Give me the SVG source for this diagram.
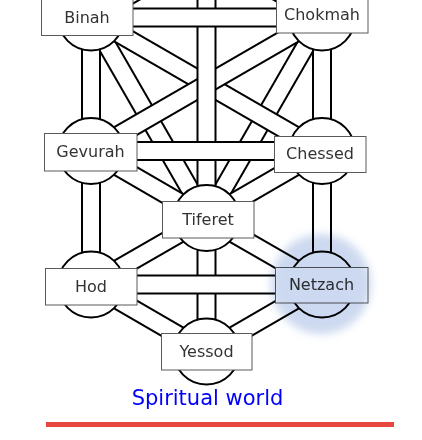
<svg xmlns="http://www.w3.org/2000/svg" xmlns:xlink="http://www.w3.org/1999/xlink" width="422" height="440" viewBox="0 0 422 440">
<style>
.o{stroke:#000;stroke-width:20;fill:none}
.i{stroke:#fff;stroke-width:16;fill:none}
.sf{fill:#fff;stroke:#000;stroke-width:2}
.bx{fill:#fff;stroke:#5a5a5a;stroke-width:1}
.lb{font-family:"DejaVu Sans","Verdana",sans-serif;font-size:16px;fill:#333;text-anchor:middle}
.glow{fill:#cdd9f0;mix-blend-mode:multiply}
</style>
<defs>
<filter id="blur" x="-30%" y="-30%" width="160%" height="160%"><feGaussianBlur stdDeviation="4"/></filter>
<line id="kb" x1="206.5" y1="-49.5" x2="91" y2="17.5"/>
<line id="kc" x1="206.5" y1="-49.5" x2="322" y2="17.5"/>
<line id="bt" x1="91" y1="17.5" x2="206.5" y2="218"/>
<line id="ct" x1="322" y1="17.5" x2="206.5" y2="218"/>
<line id="bc" x1="91" y1="17.5" x2="322" y2="151"/>
<line id="cg" x1="322" y1="17.5" x2="91" y2="151"/>
<line id="kt" x1="206.5" y1="-49.5" x2="206.5" y2="218"/>
<line id="gc" x1="91" y1="151" x2="322" y2="151"/>
<line id="bch" x1="91" y1="17.5" x2="322" y2="17.5"/>
<line id="bg" x1="91" y1="17.5" x2="91" y2="151"/>
<line id="cc" x1="322" y1="17.5" x2="322" y2="151"/>
<line id="gt" x1="91" y1="151" x2="206.5" y2="218"/>
<line id="cht" x1="322" y1="151" x2="206.5" y2="218"/>
<line id="th" x1="206.5" y1="218" x2="91" y2="284.5"/>
<line id="tn" x1="206.5" y1="218" x2="322" y2="284.5"/>
<line id="ty" x1="206.5" y1="218" x2="206.5" y2="351.5"/>
<line id="hn" x1="91" y1="284.5" x2="322" y2="284.5"/>
<line id="gh" x1="91" y1="151" x2="91" y2="284.5"/>
<line id="cn" x1="322" y1="151" x2="322" y2="284.5"/>
<line id="hy" x1="91" y1="284.5" x2="206.5" y2="351.5"/>
<line id="ny" x1="322" y1="284.5" x2="206.5" y2="351.5"/>
</defs>
<g id="connectors">
<use href="#kb" class="o"/><use href="#kb" class="i"/>
<use href="#kc" class="o"/><use href="#kc" class="i"/>
<use href="#bt" class="o"/><use href="#bt" class="i"/>
<use href="#ct" class="o"/><use href="#ct" class="i"/>
<use href="#bc" class="o"/><use href="#bc" class="i"/>
<use href="#cg" class="o"/><use href="#cg" class="i"/>
<use href="#kt" class="o"/><use href="#kt" class="i"/>
<use href="#gc" class="o"/><use href="#gc" class="i"/>
<use href="#bch" class="o"/><use href="#bch" class="i"/>
<use href="#bg" class="o"/><use href="#bg" class="i"/>
<use href="#cc" class="o"/><use href="#cc" class="i"/>
<use href="#gt" class="o"/><use href="#gt" class="i"/>
<use href="#cht" class="o"/><use href="#cht" class="i"/>
<use href="#th" class="o"/><use href="#th" class="i"/>
<use href="#tn" class="o"/><use href="#tn" class="i"/>
<use href="#ty" class="o"/><use href="#ty" class="i"/>
<use href="#hn" class="o"/><use href="#hn" class="i"/>
<use href="#gh" class="o"/><use href="#gh" class="i"/>
<use href="#cn" class="o"/><use href="#cn" class="i"/>
<use href="#hy" class="o"/><use href="#hy" class="i"/>
<use href="#ny" class="o"/><use href="#ny" class="i"/>
</g>
<g id="binah"><circle class="sf" cx="91" cy="17.5" r="33"/><rect class="bx" x="41.5" y="-2.5" width="91.5" height="38"/><text class="lb" x="87" y="23">Binah</text></g>
<g id="chokmah"><circle class="sf" cx="322" cy="17.5" r="33"/><rect class="bx" x="276.5" y="-5.5" width="91.5" height="38.5"/><text class="lb" x="322" y="20">Chokmah</text></g>
<g id="gevurah"><circle class="sf" cx="91" cy="151" r="33"/><rect class="bx" x="44.5" y="133.5" width="92.5" height="37.5"/><text class="lb" x="90.5" y="157">Gevurah</text></g>
<g id="chessed"><circle class="sf" cx="322" cy="151" r="33"/><rect class="bx" x="274.5" y="136.5" width="91.5" height="36"/><text class="lb" x="320" y="159">Chessed</text></g>
<g id="tiferet"><circle class="sf" cx="206.5" cy="218" r="33"/><rect class="bx" x="162.5" y="201.5" width="91.5" height="36.5"/><text class="lb" x="208" y="225">Tiferet</text></g>
<g id="hod"><circle class="sf" cx="91" cy="284.5" r="33"/><rect class="bx" x="45.5" y="268.5" width="91.5" height="36.5"/><text class="lb" x="91" y="292">Hod</text></g>
<g id="netzach"><circle class="sf" cx="322" cy="284.5" r="33"/><rect class="bx" x="275.5" y="267.5" width="92.5" height="35.5"/><text class="lb" x="321.5" y="290">Netzach</text><circle class="glow" cx="321" cy="284" r="50" filter="url(#blur)"/></g>
<g id="yessod"><circle class="sf" cx="206.5" cy="351.5" r="33"/><rect class="bx" x="161.5" y="333.5" width="90.5" height="36.5"/><text class="lb" x="206.5" y="357">Yessod</text></g>
<text x="207.5" y="405" font-family="DejaVu Sans, Verdana, sans-serif" font-size="21" fill="#0000ff" text-anchor="middle">Spiritual world</text>
<line x1="46" y1="424.5" x2="394" y2="424.5" stroke="#e8473e" stroke-width="5"/>
</svg>
